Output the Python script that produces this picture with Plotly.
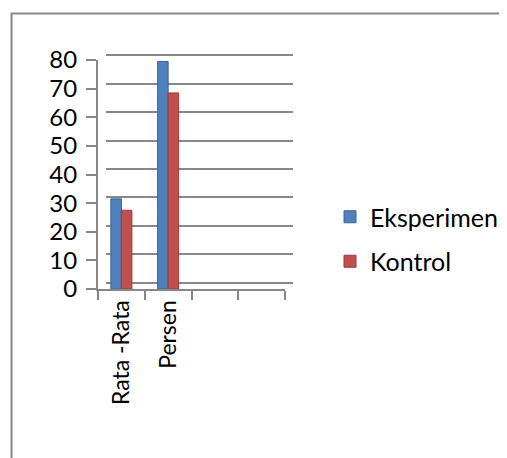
import plotly.graph_objects as go

categories = ["Rata -Rata", "Persen", " ", "  "]
eksperimen = [31.5, 79.5, None, None]
kontrol = [27.5, 68.5, None, None]
y_ticks = [0, 10, 20, 30, 40, 50, 60, 70, 80]

W, H = 507, 458
OFF = 8  # page body margin
FONT = "Lato"
GRAY = "#878787"

def px_x(a, b):
    return [(a - OFF) / W, (b - OFF) / W]

def px_y(top, bottom):
    return [1 - (bottom - OFF) / H, 1 - (top - OFF) / H]

fig = go.Figure()

fig.add_trace(go.Bar(x=categories, y=[None] * 4, xaxis="x", yaxis="y",
                     showlegend=False, hoverinfo="skip"))
fig.add_trace(go.Bar(name="Eksperimen", x=categories, y=eksperimen,
                     xaxis="x2", yaxis="y2",
                     marker=dict(color="#4F81BD", line=dict(color="#3A6597", width=1)),
                     legendgroup="a"))
fig.add_trace(go.Bar(name="Kontrol", x=categories, y=kontrol,
                     xaxis="x2", yaxis="y2",
                     marker=dict(color="#C0504D", line=dict(color="#9B3B38", width=1)),
                     legendgroup="b"))

fig.update_layout(
    width=W, height=H,
    margin=dict(l=0, r=0, t=0, b=0, pad=0, autoexpand=False),
    paper_bgcolor="white", plot_bgcolor="rgba(0,0,0,0)",
    font=dict(family=FONT, color="black"),
    barmode="group", bargap=0.55, bargroupgap=0,
    xaxis=dict(domain=px_x(106, 293), type="category", categoryarray=categories,
               showgrid=False, showticklabels=False, showline=False, ticks="",
               zeroline=False, automargin=False),
    yaxis=dict(domain=px_y(54, 284), range=[-0.4, 80.4], tickvals=y_ticks,
               showgrid=True, gridcolor=GRAY, gridwidth=2, zeroline=False,
               showticklabels=False, showline=False, ticks="", automargin=False),
    xaxis2=dict(domain=px_x(98, 285), anchor="y2", type="category", categoryarray=categories,
                showgrid=False, showline=True, linecolor=GRAY, linewidth=2,
                ticks="outside", tickson="boundaries", ticklen=9, tickwidth=2, tickcolor=GRAY,
                tickangle=-90, tickfont=dict(size=23, family=FONT), zeroline=False,
                automargin=False),
    yaxis2=dict(domain=px_y(60, 289), anchor="x2", range=[0, 80], tickvals=y_ticks,
                showgrid=False, showline=True, linecolor=GRAY, linewidth=2,
                ticks="outside", ticklen=10, tickwidth=2, tickcolor=GRAY,
                tickfont=dict(size=24, family=FONT), zeroline=False, ticklabelstandoff=4,
                automargin=False),
    legend=dict(x=(330 - OFF) / W, y=1 - (194 - OFF) / H, xanchor="left", yanchor="top",
                font=dict(size=25, family=FONT), traceorder="grouped",
                tracegroupgap=9, bgcolor="rgba(0,0,0,0)"),
    shapes=[dict(type="rect", xref="paper", yref="paper",
                 x0=(11.5 - OFF) / W, x1=1.05, y0=-0.05, y1=1 - (13.5 - OFF) / H,
                 line=dict(color=GRAY, width=2), fillcolor="rgba(0,0,0,0)")],
)

fig.write_html("out.html", config={"responsive": False}, full_html=True,
               default_width=f"{W}px", default_height=f"{H}px")
